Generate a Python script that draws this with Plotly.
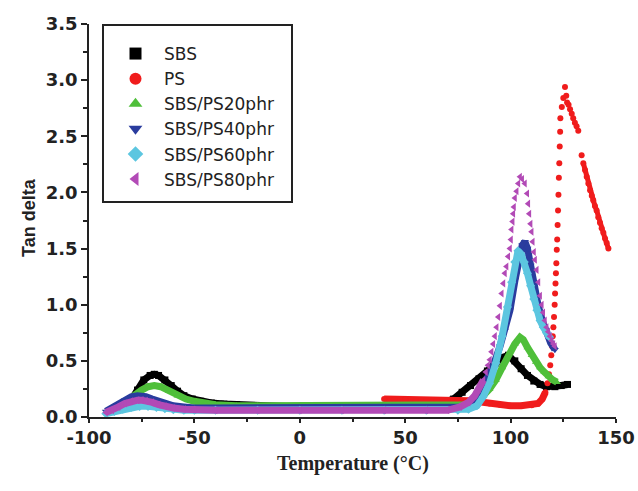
import plotly.graph_objects as go

# ---------------- data ----------------
series_names = ["SBS", "PS", "SBS/PS20phr", "SBS/PS40phr", "SBS/PS60phr", "SBS/PS80phr"]

# SBS (dense curve)
sbs_T = [-90, -85, -80, -77, -74, -71, -69, -67, -64, -61, -58, -55, -51, -47, -42, -36, -30, -22,
         -10, 0, 20, 40, 55, 62, 68, 73, 77, 81, 85, 89, 93, 96, 99, 102, 105, 108, 111, 114, 117,
         121, 124, 127]
sbs_Y = [0.05, 0.08, 0.15, 0.24, 0.33, 0.37, 0.38, 0.37, 0.33, 0.28, 0.23, 0.19, 0.16, 0.14, 0.125,
         0.115, 0.11, 0.10, 0.09, 0.09, 0.09, 0.09, 0.10, 0.12, 0.13, 0.16, 0.22, 0.28, 0.34, 0.41,
         0.48, 0.53, 0.55, 0.50, 0.43, 0.37, 0.32, 0.29, 0.27, 0.27, 0.28, 0.29]
sbs_dense_n = len(sbs_T)

# PS: dense low part, then sparse dots through the peak, then the falling branch
ps_T = [40, 45, 50, 55, 60, 65, 70, 75, 80, 85, 90, 95, 100, 105, 110, 113, 115, 116.5,
        117.5, 118.2, 118.8, 119.3, 119.7, 120.0, 120.3, 120.6, 120.9, 121.1, 121.3, 121.5, 121.7,
        121.9, 122.1, 122.3, 122.5, 122.7, 122.9, 123.1, 123.3, 123.5, 123.6, 124.3, 125.0, 125.8,
        126.4, 126.8, 127.5, 128.2, 129.0, 129.7, 130.5, 131.3, 132.1, 133.7, 134.5,
        135.3, 136.1, 136.9, 137.7, 138.5, 139.2, 140.0, 140.8, 141.6, 142.4, 143.2, 144.0, 144.8,
        145.6, 146.4]
ps_Y = [0.16, 0.16, 0.155, 0.15, 0.15, 0.15, 0.15, 0.15, 0.145, 0.135, 0.12, 0.11, 0.10, 0.10, 0.105,
        0.12, 0.16, 0.22,
        0.30, 0.38, 0.46, 0.55, 0.63, 0.72, 0.80, 0.89, 1.00, 1.10, 1.19, 1.28, 1.37,
        1.49, 1.58, 1.71, 1.84, 1.98, 2.13, 2.26, 2.41, 2.54, 2.66, 2.76, 2.84, 2.94,
        2.86, 2.80, 2.78, 2.74, 2.70, 2.66, 2.62, 2.59, 2.55, 2.33, 2.26,
        2.20, 2.14, 2.08, 2.02, 1.97, 1.93, 1.88, 1.84, 1.78, 1.73, 1.68, 1.64, 1.59,
        1.55, 1.50]
ps_dense_n = 18
ps_tail_n = 16

# SBS/PS20phr
g_T = [-91, -87, -83, -79, -75, -72, -69, -66, -62, -58, -54, -50, -45, -40, -30, -20, 0, 20, 40, 60,
       75, 80, 84, 87, 90, 93, 96, 99, 102, 104.5, 106, 108, 110, 112, 114, 116, 118, 120, 122]
g_Y = [0.05, 0.08, 0.13, 0.19, 0.24, 0.27, 0.28, 0.27, 0.23, 0.19, 0.16, 0.14, 0.12, 0.11, 0.10, 0.10,
       0.10, 0.10, 0.10, 0.10, 0.10, 0.11, 0.15, 0.19, 0.25, 0.33, 0.44, 0.55, 0.65, 0.71, 0.69, 0.62,
       0.55, 0.49, 0.44, 0.40, 0.36, 0.33, 0.31]
g_dense_n = len(g_T)

# SBS/PS40phr
b_T = [-92, -89, -86, -83, -80, -77, -75, -73, -70, -67, -64, -60, -55, -50, -40, -20, 0, 20, 40, 60,
       72, 78, 82, 86, 89, 92, 95, 97.3, 99.7, 102.1, 104, 105.5, 106.8, 108, 109.5, 111, 113, 115,
       117, 119, 121]
b_Y = [0.05, 0.08, 0.11, 0.15, 0.18, 0.19, 0.19, 0.18, 0.16, 0.14, 0.12, 0.10, 0.09, 0.08, 0.08, 0.08,
       0.08, 0.08, 0.08, 0.08, 0.08, 0.09, 0.14, 0.24, 0.35, 0.47, 0.63, 0.77, 0.95, 1.22, 1.42, 1.53,
       1.56, 1.50, 1.35, 1.18, 1.00, 0.86, 0.75, 0.66, 0.60]
b_dense_n = len(b_T)

# SBS/PS60phr
c_T = [-92, -88, -84, -80, -76, -72, -68, -64, -60, -55, -50, -40, -20, 0, 20, 40, 60, 75, 80, 84,
       87, 90, 93, 96, 98.5, 100.5, 102, 103.5, 105, 106.5, 108, 109.5, 111, 112.5, 114, 115.5, 117,
       118.5]
c_Y = [0.03, 0.05, 0.07, 0.085, 0.095, 0.095, 0.085, 0.075, 0.065, 0.06, 0.06, 0.06, 0.06, 0.06, 0.06,
       0.06, 0.06, 0.06, 0.07, 0.10, 0.18, 0.30, 0.48, 0.72, 0.98, 1.20, 1.38, 1.48, 1.45, 1.38, 1.28,
       1.17, 1.05, 0.95, 0.86, 0.80, 0.75, 0.71]
c_dense_n = len(c_T)

# SBS/PS80phr: dense low part, then individual dots around the peak
m_T = [-92, -89, -86, -83, -80, -77, -75, -73, -70, -67, -64, -60, -55, -50, -40, -20, 0, 20, 40, 60,
       70, 76, 80, 83, 85, 87.1,
       88.3, 89.3, 90.2, 91.0, 91.8, 92.6, 93.4, 94.2, 95.0, 95.8, 96.6, 97.3, 98.1, 98.9, 99.7,
       100.2, 100.5, 101.0, 101.3, 101.6, 102.1, 102.9, 103.7, 104.5, 105.5, 106.8, 107.9, 108.4,
       108.9, 109.5, 110.0, 110.5, 111.1, 111.6, 112.4, 113.2, 114.0, 114.8, 115.5, 116.3, 117.1,
       117.9, 118.7, 119.5, 120.3, 121.0]
m_Y = [0.04, 0.06, 0.09, 0.12, 0.14, 0.15, 0.15, 0.145, 0.13, 0.11, 0.095, 0.08, 0.07, 0.065, 0.06,
       0.06, 0.06, 0.06, 0.06, 0.06, 0.06, 0.09, 0.13, 0.19, 0.25, 0.33,
       0.40, 0.46, 0.51, 0.58, 0.65, 0.72, 0.80, 0.89, 0.99, 1.10, 1.19, 1.28, 1.34, 1.43, 1.50,
       1.58, 1.67, 1.74, 1.81, 1.87, 1.95, 2.01, 2.08, 2.14, 2.12, 2.08, 1.99, 1.90,
       1.81, 1.72, 1.65, 1.56, 1.47, 1.40, 1.31, 1.20, 1.08, 1.00, 0.93, 0.86, 0.80,
       0.76, 0.72, 0.68, 0.65, 0.63]
m_dense_n = 26

x_ticks = [-100, -50, 0, 50, 100, 150]
y_ticks = [0.0, 0.5, 1.0, 1.5, 2.0, 2.5, 3.0, 3.5]

# ---------------- styling ----------------
colors = ["#000000", "#f01c1c", "#4fbf3a", "#2a3c9e", "#5cc6e0", "#b24ab6"]
symbols = ["square", "circle", "triangle-up", "triangle-down", "diamond", "triangle-left"]
sizes = [7, 6, 7, 7, 7, 7]
all_T = [sbs_T, ps_T, g_T, b_T, c_T, m_T]
all_Y = [sbs_Y, ps_Y, g_Y, b_Y, c_Y, m_Y]
dense_n = [sbs_dense_n, ps_dense_n, g_dense_n, b_dense_n, c_dense_n, m_dense_n]

fig = go.Figure()
for name, T, Y, n, col, sym, sz in zip(series_names, all_T, all_Y, dense_n, colors, symbols, sizes):
    fig.add_trace(go.Scatter(x=T[:n], y=Y[:n], mode="lines",
                             line=dict(color=col, width=7), showlegend=False,
                             hoverinfo="skip", legendgroup=name))
    if name == "PS":
        fig.add_trace(go.Scatter(x=T[-ps_tail_n:], y=Y[-ps_tail_n:], mode="lines",
                                 line=dict(color=col, width=5), showlegend=False,
                                 hoverinfo="skip", legendgroup=name))
    fig.add_trace(go.Scatter(x=T, y=Y, mode="markers", name=name, legendgroup=name,
                             marker=dict(symbol=sym, color=col, size=sz, line=dict(width=0))))

W, H = 638, 491
PX_L, PX_R, PX_T, PX_B = 89, 616, 24, 417   # plot area in screen pixels
plot_w = PX_R - PX_L
plot_h = PX_B - PX_T

def px_x(p):  # screen x -> paper
    return (p - PX_L) / plot_w

def px_y(p):  # screen y -> paper
    return (PX_B - p) / plot_h

tick_font = dict(family="DejaVu Sans, sans-serif", size=18, color="#222", weight="bold")
ytitle_font = dict(family="Arial, Liberation Sans, sans-serif", size=18, color="#222", weight="bold")
fig.update_layout(
    width=W, height=H,
    margin=dict(l=PX_L, r=W - PX_R, t=PX_T, b=H - PX_B, autoexpand=False),
    paper_bgcolor="white", plot_bgcolor="white",
    showlegend=True,
    legend=dict(x=px_x(107), y=px_y(36), xanchor="left", yanchor="top",
                borderwidth=0, bgcolor="rgba(255,255,255,0)",
                font=dict(family="DejaVu Sans, sans-serif", size=17, color="#222"),
                itemsizing="constant", itemwidth=47, tracegroupgap=0),
    shapes=[dict(type="rect", xref="paper", yref="paper",
                 x0=px_x(103), x1=px_x(292), y0=px_y(202), y1=px_y(25),
                 line=dict(color="#222", width=2))],
    annotations=[
        dict(text="Temperature (°C)", xref="paper", yref="paper", x=0.5, y=px_y(463),
             xanchor="center", yanchor="middle", showarrow=False,
             font=dict(family="Times New Roman, Liberation Serif, serif", size=20,
                       color="#222", weight="bold")),
        dict(text="Tan delta", xref="paper", yref="paper", x=px_x(29), y=px_y(218), textangle=-90,
             xanchor="center", yanchor="middle", showarrow=False, font=ytitle_font),
    ],
)
fig.update_xaxes(range=[-100, 150], tickvals=x_ticks, ticktext=[str(v) for v in x_ticks],
                 automargin=False,
                 showgrid=False, zeroline=False, showline=True, linecolor="#222", linewidth=1.5,
                 ticks="outside", ticklen=4, tickwidth=1.5, tickcolor="#222",
                 minor=dict(dtick=25, ticks="outside", ticklen=3, tickcolor="#222", tickwidth=1.5),
                 tickfont=tick_font)
fig.update_yaxes(range=[0, 3.5], tickvals=y_ticks, ticktext=[f"{v:.1f}" for v in y_ticks],
                 automargin=False,
                 showgrid=False, zeroline=False, showline=True, linecolor="#222", linewidth=1.5,
                 ticks="outside", ticklen=6, tickwidth=1.5, tickcolor="#222",
                 minor=dict(dtick=0.25, ticks="outside", ticklen=4, tickcolor="#222", tickwidth=1.5),
                 tickfont=tick_font)

# remove the page's default body margin so the 638x491 figure fills the window exactly
fig.write_html("out.html", config={"displayModeBar": False},
               post_script="document.body.style.margin='0';document.body.style.overflow='hidden';")
